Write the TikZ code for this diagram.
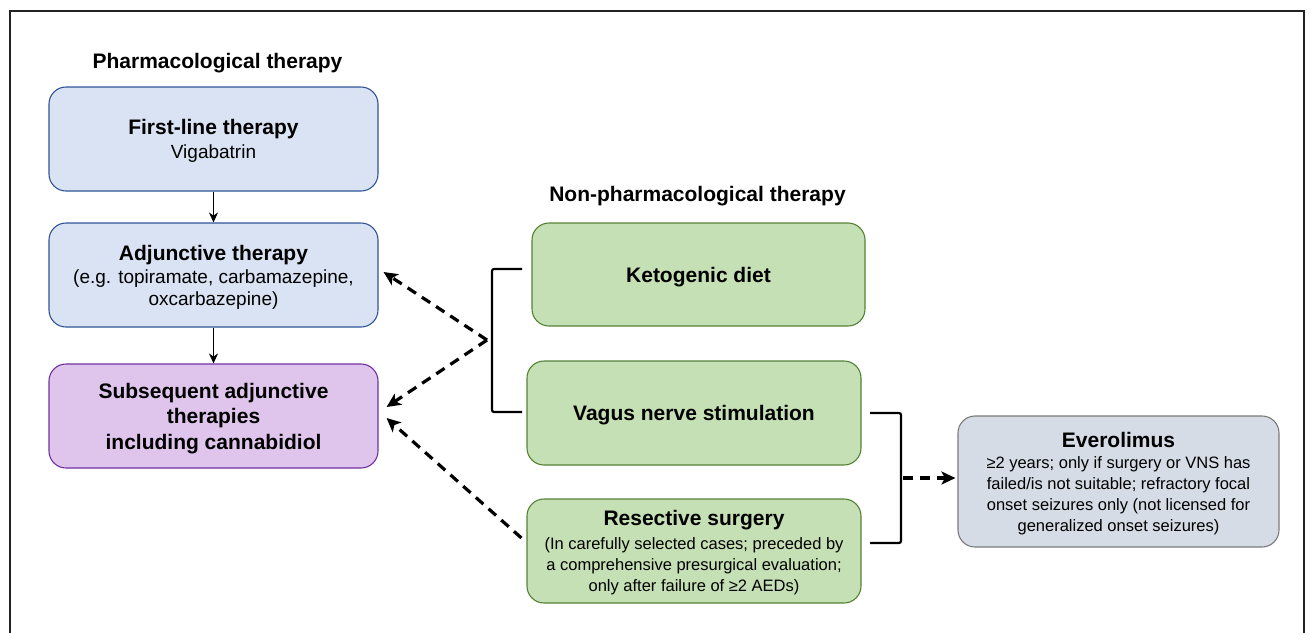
\documentclass[tikz,border=0pt]{standalone}
\usepackage{fontspec}
\setmainfont{Liberation Sans}
\usetikzlibrary{arrows.meta}
\definecolor{bfill}{HTML}{DAE3F3}
\definecolor{bdraw}{HTML}{2F5597}
\definecolor{pfill}{HTML}{DFC5EC}
\definecolor{pdraw}{HTML}{7030A0}
\definecolor{gfill}{HTML}{C5E0B4}
\definecolor{gdraw}{HTML}{548235}
\definecolor{efill}{HTML}{D6DCE5}
\definecolor{edraw}{HTML}{7A7A7A}
\definecolor{framec}{HTML}{222222}
\newcommand\boxtitle[1]{{\fontsize{21}{25}\selectfont\bfseries #1}}
\tikzset{
  bx/.style={draw, rounded corners=17pt, line width=1.1pt, align=center, inner sep=0pt, text depth=-1.5pt},
  bluebox/.style={bx, fill=bfill, draw=bdraw, minimum width=329pt, minimum height=104pt},
  purplebox/.style={bx, fill=pfill, draw=pdraw, minimum width=329pt, minimum height=104pt},
  greenbox/.style={bx, fill=gfill, draw=gdraw, minimum width=334pt, minimum height=104pt},
  graybox/.style={bx, fill=efill, draw=edraw, minimum width=321pt, minimum height=131pt},
  bigtxt/.style={font=\fontsize{19}{22}\selectfont},
  smalltxt/.style={font=\fontsize{16.5}{20.8}\selectfont},
  heading/.style={font=\fontsize{21}{25}\selectfont\bfseries, inner sep=0pt},
  solidarrow/.style={line width=1.7pt, -{Stealth[length=10pt,width=9pt]}},
  dasharrow/.style={line width=3.2pt, dash pattern=on 10pt off 7pt, -{Stealth[length=14pt,width=13pt,inset=3.5pt]}},
  bracket/.style={line width=2.2pt, rounded corners=2pt},
  framestyle/.style={line width=1.6pt, draw=framec}
}
\begin{document}
\begin{tikzpicture}[x=1pt,y=-1pt]
\useasboundingbox (0,0) rectangle (1310,633);
\draw[framestyle] (10,633) -- (10,11) -- (1304,11) -- (1304,633);

\node[heading] (pharm) at (217.5,63) {Pharmacological therapy};
\node[heading] (nonpharm) at (697.5,196) {Non-pharmacological therapy};

\node[bluebox, bigtxt] (first) at (213.5,139) {\boxtitle{First-line therapy}\\[2pt]Vigabatrin};
\node[bluebox, bigtxt] (adj) at (213.5,275) {\boxtitle{Adjunctive therapy}\\[1pt](e.g. topiramate, carbamazepine,\\oxcarbazepine)};
\node[purplebox, font=\fontsize{21}{25.5}\selectfont\bfseries] (sub) at (213.5,416) {Subsequent adjunctive\\therapies\\including cannabidiol};

\node[greenbox, minimum width=333pt, minimum height=103pt] (keto) at (698.5,274.5) {\boxtitle{Ketogenic diet}};
\node[greenbox] (vns) at (694,413) {\boxtitle{Vagus nerve stimulation}};
\node[greenbox, smalltxt, text depth=-4pt] (res) at (694,551) {\boxtitle{Resective surgery}\\[3pt](In carefully selected cases; preceded by\\a comprehensive presurgical evaluation;\\only after failure of ≥2 AEDs)};

\node[graybox, smalltxt] (ev) at (1118.5,481.5) {\boxtitle{Everolimus}\\[1pt]≥2 years; only if surgery or VNS has\\failed/is not suitable; refractory focal\\onset seizures only (not licensed for\\generalized onset seizures)};

\draw[solidarrow] (first) -- (adj);
\draw[solidarrow] (adj) -- (sub);

\coordinate (lb1) at (522,269);
\coordinate (lb2) at (492,269);
\coordinate (lb3) at (492,412);
\coordinate (lb4) at (522,412);
\draw[bracket] (lb1) -- (lb2) -- (lb3) -- (lb4);

\coordinate (ls) at (487,340);
\draw[dasharrow] (ls) -- ([xshift=5pt,yshift=3pt]adj.east);
\draw[dasharrow] (ls) -- ([xshift=8pt,yshift=9pt]sub.east);
\draw[dasharrow] ([xshift=-5pt,yshift=13pt]res.west) -- ([xshift=8pt,yshift=-2pt]sub.east);

\coordinate (rb1) at (870,413);
\coordinate (rb2) at (901,413);
\coordinate (rb3) at (901,543);
\coordinate (rb4) at (870,543);
\draw[bracket] (rb1) -- (rb2) -- (rb3) -- (rb4);

\coordinate (rs) at (903,478);
\draw[dasharrow] (rs) -- ([xshift=-2pt,yshift=3.5pt]ev.west);
\end{tikzpicture}
\end{document}
